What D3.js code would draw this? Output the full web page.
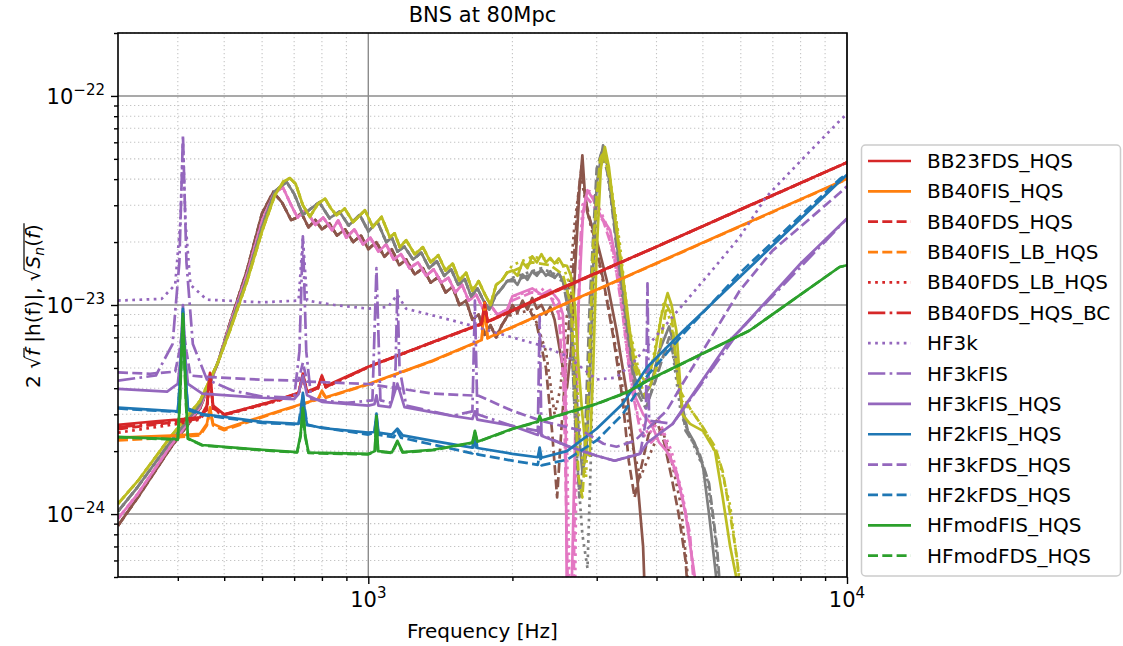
<!DOCTYPE html>
<html><head><meta charset="utf-8">
<script src="https://cdn.jsdelivr.net/npm/d3@7"></script>
<style>body{margin:0;background:#fff;} text{font-family:"DejaVu Sans",sans-serif;fill:#000;}</style>
</head><body><svg id="c" width="1123" height="646"></svg>
<script>
// ---------------- DATA ----------------
const title = "BNS at 80Mpc";
const xLabel = "Frequency [Hz]";
const xMajorTicks = [1000, 10000];
const xMajorLabels = [["10","3"],["10","4"]];
const xMinorTicks = [400,500,600,700,800,900,2000,3000,4000,5000,6000,7000,8000,9000];
const yMajorTicks = [1e-24, 1e-23, 1e-22];
const yMajorLabels = [["10","\u221224"],["10","\u221223"],["10","\u221222"]];
const yMinorTicks = [5e-25,6e-25,7e-25,8e-25,9e-25,2e-24,3e-24,4e-24,5e-24,6e-24,7e-24,8e-24,9e-24,2e-23,3e-23,4e-23,5e-23,6e-23,7e-23,8e-23,9e-23,2e-22];

// BNS signal curves 2*sqrt(f)|h(f)|  [f, value]
const brownSolid = [[300,8.8e-25],[330,1.2e-24],[385,2.05e-24],[445,3.2e-24],[485,5.3e-24],[514,8.2e-24],[557,1.45e-23],[600,2.75e-23],[633,3.47e-23],[660,3.1e-23],[690,2.55e-23],[705,2.6e-23],[725,2.75e-23],[750,2.35e-23],[775,2.55e-23],[800,2.3e-23],[830,2.45e-23],[860,2.15e-23],[895,2.3e-23],[930,2.0e-23],[965,2.15e-23],[1000,1.85e-23],[1040,2.0e-23],[1080,1.7e-23],[1120,1.85e-23],[1160,1.55e-23],[1200,1.65e-23],[1250,1.4e-23],[1300,1.5e-23],[1350,1.28e-23],[1400,1.36e-23],[1450,1.15e-23],[1500,1.22e-23],[1550,1.0e-23],[1600,1.05e-23],[1650,8.5e-24],[1700,9.0e-24],[1750,7.2e-24],[1800,8.0e-24],[1850,7.0e-24],[1900,8.0e-24],[1950,8.8e-24],[2000,1.0e-23],[2050,9.2e-24],[2100,1.05e-23],[2150,9.5e-24],[2200,1.08e-23],[2250,9.6e-24],[2300,1.0e-23],[2350,9.0e-24],[2400,9.8e-24],[2450,8.5e-24],[2500,6.5e-24],[2550,5.0e-24],[2600,4.0e-24],[2650,6e-24],[2700,1.4e-23],[2760,3.5e-23],[2800,5.2e-23],[2830,3.6e-23],[2870,2.75e-23],[3000,2.04e-23],[3150,1.31e-23],[3300,7.55e-24],[3480,3.6e-24],[3650,1.44e-24],[3750,7e-25],[3800,3e-25]];
const brownDashedTail = [[2000,9.5e-24],[2150,1.0e-23],[2250,8e-24],[2350,5e-24],[2420,2.5e-24],[2480,1.2e-24],[2530,2.5e-24],[2600,6e-24],[2680,1.5e-23],[2750,3.5e-23],[2790,4.6e-23],[2840,3.2e-23],[2950,2.2e-23],[3100,1.3e-23],[3250,7e-24],[3400,3.5e-24],[3500,1.8e-24],[3600,1.2e-24],[3700,1.6e-24],[3850,2.4e-24],[4000,2.8e-24],[4150,2.2e-24],[4300,1.5e-24],[4450,1.0e-24],[4600,6e-25],[4700,3e-25]];
const brownDottedTail = [[2000,9e-24],[2200,9.5e-24],[2350,6e-24],[2450,3e-24],[2520,4e-24],[2600,9e-24],[2700,2.5e-23],[2780,4.2e-23],[2850,3e-23],[3000,1.8e-23],[3200,9e-24],[3400,4e-24],[3550,2.2e-24],[3700,1.5e-24],[3900,2e-24],[4100,2.6e-24],[4300,1.8e-24],[4500,1.1e-24],[4650,5e-25],[4750,3e-25]];

const pinkSolid = [[300,9.5e-25],[330,1.25e-24],[385,2.1e-24],[445,3.25e-24],[485,5.3e-24],[514,8.0e-24],[557,1.38e-23],[601,2.55e-23],[635,3.4e-23],[663,3.66e-23],[690,3.0e-23],[712,2.62e-23],[740,2.85e-23],[775,2.42e-23],[805,2.62e-23],[840,2.28e-23],[865,2.54e-23],[900,2.1e-23],[935,2.3e-23],[975,1.95e-23],[1010,2.1e-23],[1050,1.8e-23],[1090,1.95e-23],[1130,1.65e-23],[1170,1.75e-23],[1220,1.5e-23],[1270,1.6e-23],[1320,1.38e-23],[1370,1.48e-23],[1420,1.28e-23],[1470,1.35e-23],[1520,1.15e-23],[1570,1.25e-23],[1620,1.05e-23],[1680,1.12e-23],[1740,9.5e-24],[1800,1.0e-23],[1860,9.0e-24],[1950,9.5e-24],[2000,1.1e-23],[2100,1.15e-23],[2200,1.2e-23],[2300,1.12e-23],[2400,1.18e-23],[2500,1.05e-23],[2550,9e-24],[2580,5e-24],[2600,3e-25],[2650,3e-25],[2700,2e-24],[2750,1e-23],[2810,2.8e-23],[2870,3.54e-23],[2950,3.2e-23],[3050,2.7e-23],[3200,2.28e-23],[3300,1.6e-23],[3400,1.1e-23],[3500,6e-24],[3620,3.6e-24],[3750,3e-24],[3900,2.7e-24],[4050,2.2e-24],[4200,2.0e-24],[4400,1.6e-24],[4600,1.0e-24],[4810,5e-25],[4900,3e-25]];
const pinkDashedTail = [[2000,1.05e-23],[2200,1.15e-23],[2400,1.1e-23],[2500,9e-24],[2560,4e-24],[2620,3e-25],[2680,3e-25],[2720,5e-24],[2780,2.2e-23],[2850,3.3e-23],[2950,3.0e-23],[3100,2.5e-23],[3250,1.8e-23],[3400,9e-24],[3550,4e-24],[3700,2.5e-24],[3900,2.2e-24],[4100,2.5e-24],[4300,1.8e-24],[4500,1.3e-24],[4700,8e-25],[4850,3e-25]];
const pinkDottedTail = [[2000,1.1e-23],[2300,1.2e-23],[2500,1.0e-23],[2580,6e-24],[2640,3e-25],[2700,3e-25],[2740,8e-24],[2800,3.0e-23],[2900,3.5e-23],[3000,3.1e-23],[3150,2.4e-23],[3350,1.2e-23],[3500,5e-24],[3650,3e-24],[3850,2.4e-24],[4050,2.8e-24],[4300,2e-24],[4550,1.2e-24],[4750,6e-25],[4900,3e-25]];

const graySolid = [[300,1.03e-24],[330,1.35e-24],[385,2.2e-24],[445,3.35e-24],[485,5.3e-24],[514,7.8e-24],[557,1.32e-23],[601,2.4e-23],[638,3.5e-23],[675,3.88e-23],[700,3.4e-23],[730,2.7e-23],[760,2.9e-23],[790,3.1e-23],[830,2.6e-23],[870,2.8e-23],[910,2.4e-23],[960,2.7e-23],[1000,2.25e-23],[1045,2.5e-23],[1090,2.0e-23],[1120,2.1e-23],[1150,1.8e-23],[1190,1.9e-23],[1240,1.65e-23],[1290,1.78e-23],[1340,1.5e-23],[1390,1.62e-23],[1440,1.38e-23],[1490,1.48e-23],[1540,1.25e-23],[1590,1.33e-23],[1640,1.1e-23],[1690,1.2e-23],[1740,1.05e-23],[1790,9.5e-24],[1840,1.1e-23],[1900,1.2e-23],[1950,1.3e-23],[2000,1.33e-23],[2050,1.25e-23],[2100,1.4e-23],[2150,1.32e-23],[2200,1.45e-23],[2250,1.38e-23],[2300,1.48e-23],[2350,1.38e-23],[2400,1.45e-23],[2450,1.35e-23],[2500,1.42e-23],[2550,1.3e-23],[2600,1.2e-23],[2650,9e-24],[2700,5e-24],[2750,2.5e-24],[2800,1.6e-24],[2850,1.9e-24],[2900,4e-24],[2950,1.5e-23],[3000,3.8e-23],[3093,5.8e-23],[3150,4.8e-23],[3220,3.2e-23],[3300,2.0e-23],[3400,1.2e-23],[3500,7e-24],[3600,4.5e-24],[3750,3.6e-24],[3900,4.2e-24],[4050,6e-24],[4250,7.9e-24],[4350,6.5e-24],[4500,3.5e-24],[4650,2.5e-24],[4800,2.2e-24],[5000,1.7e-24],[5150,1.0e-24],[5330,5e-25],[5450,3e-25]];
const grayDashedTail = [[2000,1.3e-23],[2300,1.45e-23],[2550,1.3e-23],[2650,8e-24],[2700,3e-24],[2760,1.2e-24],[2830,2e-24],[2900,1.0e-23],[3000,4.5e-23],[3080,5.5e-23],[3180,4e-23],[3300,1.9e-23],[3450,9e-24],[3600,4e-24],[3800,3.2e-24],[4000,4.5e-24],[4250,7e-24],[4400,5e-24],[4600,2.5e-24],[4900,2.0e-24],[5150,1.4e-24],[5350,7e-25],[5500,3e-25]];
const grayDottedTail = [[2000,1.35e-23],[2300,1.5e-23],[2550,1.35e-23],[2650,8e-24],[2720,2e-24],[2800,8e-25],[2870,5.5e-25],[2920,2e-24],[2980,2e-23],[3060,5.2e-23],[3150,4.5e-23],[3280,2.2e-23],[3450,8e-24],[3650,3.8e-24],[3850,3.5e-24],[4100,5.5e-24],[4300,6.5e-24],[4500,3e-24],[4800,2.1e-24],[5100,1.5e-24],[5300,8e-25],[5450,3e-25]];

const oliveSolid = [[300,1.12e-24],[330,1.44e-24],[385,2.32e-24],[445,3.48e-24],[485,5.3e-24],[514,7.55e-24],[557,1.28e-23],[601,2.28e-23],[638,3.35e-23],[665,3.9e-23],[686,4.04e-23],[705,3.8e-23],[730,3.0e-23],[755,2.64e-23],[785,3.05e-23],[812,3.23e-23],[835,2.9e-23],[858,2.69e-23],[893,2.89e-23],[930,2.49e-23],[984,2.84e-23],[1022,2.36e-23],[1066,2.64e-23],[1109,2.11e-23],[1135,2.2e-23],[1164,1.89e-23],[1200,2.04e-23],[1250,1.75e-23],[1300,1.89e-23],[1350,1.6e-23],[1400,1.73e-23],[1450,1.46e-23],[1500,1.58e-23],[1550,1.31e-23],[1600,1.43e-23],[1650,1.17e-23],[1700,1.3e-23],[1750,1.13e-23],[1800,1.0e-23],[1850,1.25e-23],[1900,1.31e-23],[1950,1.43e-23],[2000,1.46e-23],[2050,1.38e-23],[2100,1.6e-23],[2150,1.5e-23],[2200,1.71e-23],[2250,1.6e-23],[2300,1.75e-23],[2350,1.6e-23],[2400,1.68e-23],[2450,1.58e-23],[2500,1.67e-23],[2550,1.55e-23],[2600,1.54e-23],[2650,1.38e-23],[2700,1.0e-23],[2750,5e-24],[2800,3.0e-24],[2850,2.0e-24],[2900,1.9e-24],[2950,5e-24],[3000,1.8e-23],[3060,4.5e-23],[3120,5.7e-23],[3180,4.6e-23],[3250,3.0e-23],[3300,2.28e-23],[3400,1.4e-23],[3517,7.55e-24],[3600,5.3e-24],[3700,4.6e-24],[3800,4.3e-24],[3950,5.5e-24],[4100,9e-24],[4220,1.14e-23],[4300,1.0e-23],[4400,7.55e-24],[4530,3.0e-24],[4700,2.7e-24],[5000,2.5e-24],[5300,2.0e-24],[5500,1.2e-24],[5700,7e-25],[5870,5e-25],[6000,3e-25]];
const oliveDashedTail = [[2000,1.45e-23],[2200,1.6e-23],[2400,1.55e-23],[2550,1.4e-23],[2650,1.0e-23],[2700,4e-24],[2750,1.5e-24],[2800,1.2e-24],[2870,3e-24],[2950,2e-23],[3050,5.0e-23],[3100,5.4e-23],[3180,4.2e-23],[3300,2.4e-23],[3450,1.0e-23],[3600,5e-24],[3800,3.6e-24],[4000,5e-24],[4200,1.0e-23],[4300,9e-24],[4450,4e-24],[4700,3.2e-24],[5000,2.6e-24],[5300,2.1e-24],[5500,1.6e-24],[5700,1.0e-24],[5900,6e-25],[6050,3e-25]];
const oliveDottedTail = [[2000,1.55e-23],[2200,1.7e-23],[2400,1.65e-23],[2550,1.55e-23],[2650,1.2e-23],[2720,5e-24],[2780,2e-24],[2850,1.5e-24],[2920,8e-24],[3000,3.5e-23],[3100,5.3e-23],[3200,4.0e-23],[3350,2.0e-23],[3500,8e-24],[3700,4.5e-24],[3900,5e-24],[4150,1.05e-23],[4300,8e-24],[4500,3.5e-24],[4800,3.0e-24],[5100,2.4e-24],[5400,1.8e-24],[5700,1.1e-24],[5950,5e-25],[6100,3e-25]];

// Detector noise curves sqrt(Sn)  [f, value]
const BB23FDS_HQS = [[300,2.67e-24],[360,2.78e-24],[400,2.83e-24],[445,2.9e-24],[460,3.3e-24],[467,4.74e-24],[474,3.3e-24],[500,3.0e-24],[600,3.35e-24],[654,3.55e-24],[715,3.8e-24],[730,4.7e-24],[745,3.85e-24],[785,4.05e-24],[800,4.6e-24],[815,4.1e-24],[1000,5.07e-24],[1364,6.65e-24],[1725,8.15e-24],[1750,1.03e-23],[1775,8.35e-24],[2500,1.19e-23],[4000,1.9e-23],[6000,2.87e-23],[10000,4.81e-23]];
const BB40FIS_HQS = [[300,2.32e-24],[400,2.38e-24],[445,2.42e-24],[460,2.7e-24],[467,3.24e-24],[474,2.7e-24],[500,2.56e-24],[654,3.12e-24],[785,3.55e-24],[800,3.89e-24],[815,3.62e-24],[1000,4.19e-24],[1364,5.42e-24],[1725,6.8e-24],[1750,1.02e-23],[1775,6.95e-24],[10000,4.02e-23]];
const BB40FDS_HQS = [[300,2.55e-24],[400,2.76e-24],[445,2.86e-24],[460,3.2e-24],[467,4.6e-24],[474,3.2e-24],[500,2.98e-24],[654,3.52e-24],[715,3.78e-24],[730,4.6e-24],[745,3.83e-24],[785,4.0e-24],[800,4.55e-24],[815,4.05e-24],[1000,5.05e-24],[1364,6.64e-24],[1725,8.1e-24],[1750,1.0e-23],[1775,8.3e-24],[2500,1.18e-23],[4000,1.9e-23],[6000,2.86e-23],[10000,4.8e-23]];
const BB40FIS_LB_HQS = [[300,2.25e-24],[400,2.33e-24],[445,2.38e-24],[460,2.65e-24],[467,3.1e-24],[474,2.65e-24],[500,2.52e-24],[654,3.1e-24],[785,3.53e-24],[800,3.8e-24],[815,3.6e-24],[1000,4.17e-24],[1364,5.4e-24],[1725,6.78e-24],[1750,9.8e-24],[1775,6.93e-24],[10000,4.0e-23]];
const BB40FDS_LB_HQS = [[300,2.45e-24],[400,2.7e-24],[445,2.83e-24],[460,3.15e-24],[467,4.5e-24],[474,3.15e-24],[500,2.97e-24],[654,3.5e-24],[715,3.77e-24],[730,4.5e-24],[745,3.82e-24],[785,3.99e-24],[800,4.5e-24],[815,4.04e-24],[1000,5.04e-24],[1364,6.63e-24],[1725,8.1e-24],[1750,9.8e-24],[1775,8.3e-24],[2500,1.18e-23],[4000,1.9e-23],[6000,2.86e-23],[10000,4.8e-23]];
const BB40FDS_HQS_BC = [[300,2.6e-24],[400,2.8e-24],[445,2.88e-24],[460,3.25e-24],[467,4.65e-24],[474,3.25e-24],[500,2.99e-24],[654,3.54e-24],[715,3.79e-24],[730,4.6e-24],[745,3.84e-24],[785,4.0e-24],[800,4.55e-24],[815,4.05e-24],[1000,5.06e-24],[1364,6.65e-24],[1725,8.12e-24],[1750,1.0e-23],[1775,8.32e-24],[2500,1.19e-23],[4000,1.9e-23],[6000,2.87e-23],[10000,4.81e-23]];
const HF3k = [[300,1.05e-23],[370,1.07e-23],[395,1.25e-23],[405,2.5e-23],[410,6.0e-23],[415,2.5e-23],[425,1.25e-23],[460,1.06e-23],[600,1.03e-23],[715,1.05e-23],[730,2.1e-23],[745,1.05e-23],[850,1.0e-23],[1000,9.6e-24],[1100,9.8e-24],[1150,1.12e-23],[1200,9.6e-24],[1500,8.43e-24],[1700,7.8e-24],[2000,7.0e-24],[2300,6.4e-24],[2600,5.7e-24],[3000,4.4e-24],[3300,4.5e-24],[3600,5.4e-24],[4200,8.13e-24],[5085,1.36e-23],[5967,2.11e-23],[6780,3.29e-23],[8220,5.21e-23],[9650,7.6e-23],[10000,8.2e-23]];
const HF3kFIS = [[300,4.35e-24],[360,4.6e-24],[390,6.5e-24],[403,1.6e-23],[410,6.5e-23],[417,1.6e-23],[430,6.5e-24],[460,4.4e-24],[520,3.9e-24],[600,3.65e-24],[700,3.6e-24],[718,6e-24],[730,2.13e-23],[742,6e-24],[760,3.55e-24],[900,3.4e-24],[1020,3.5e-24],[1040,1.5e-23],[1060,3.5e-24],[1120,3.4e-24],[1140,5e-24],[1150,1.2e-23],[1162,5e-24],[1200,3.3e-24],[1500,2.95e-24],[1650,3.1e-24],[1670,1.05e-23],[1690,3.0e-24],[2000,2.64e-24],[2260,2.5e-24],[2280,8.8e-24],[2300,2.4e-24],[2600,2.12e-24],[3000,1.9e-24],[3270,1.8e-24],[3700,1.95e-24],[3800,2.8e-24],[3830,1.27e-23],[3860,2.8e-24],[4323,2.7e-24],[5967,7.55e-24],[10000,2.59e-23]];
const HF3kFIS_HQS = [[300,3.97e-24],[380,3.85e-24],[400,4.2e-24],[405,5.5e-24],[410,1.0e-23],[415,5.5e-24],[420,4.2e-24],[450,3.77e-24],[600,3.6e-24],[700,3.55e-24],[715,3.75e-24],[730,4.59e-24],[745,3.7e-24],[800,3.44e-24],[1000,3.3e-24],[1030,3.35e-24],[1040,3.7e-24],[1050,3.3e-24],[1110,3.25e-24],[1150,4.21e-24],[1190,3.25e-24],[1500,2.95e-24],[1650,2.85e-24],[1670,3.1e-24],[1690,2.83e-24],[2000,2.64e-24],[2260,2.39e-24],[2280,2.6e-24],[2300,2.37e-24],[2600,2.12e-24],[3000,1.9e-24],[3270,1.8e-24],[3690,1.94e-24],[3830,2.2e-24],[4323,2.7e-24],[5685,6.76e-24],[5967,7.55e-24],[8000,1.58e-23],[10000,2.59e-23]];
const HF2kFIS_HQS = [[300,3.23e-24],[400,3.1e-24],[405,4.6e-24],[410,9.59e-24],[415,4.6e-24],[420,3.2e-24],[450,3.01e-24],[600,2.76e-24],[715,2.7e-24],[722,3.0e-24],[730,3.8e-24],[738,3.0e-24],[745,2.68e-24],[800,2.58e-24],[1000,2.45e-24],[1030,2.47e-24],[1040,3.02e-24],[1050,2.45e-24],[1120,2.4e-24],[1150,2.56e-24],[1180,2.38e-24],[1364,2.24e-24],[1650,2.08e-24],[1670,2.45e-24],[1690,2.07e-24],[2000,1.94e-24],[2260,1.87e-24],[2280,2.08e-24],[2300,1.86e-24],[2600,2.0e-24],[3000,2.56e-24],[3400,3.37e-24],[3830,5.07e-24],[4557,7.55e-24],[5967,1.36e-23],[9650,3.9e-23],[10000,4.2e-23]];
const HF3kFDS_HQS = [[300,4.76e-24],[350,4.69e-24],[395,4.8e-24],[403,6e-24],[410,8e-24],[417,6e-24],[425,4.6e-24],[450,4.54e-24],[600,4.39e-24],[715,4.35e-24],[730,5.3e-24],[745,4.3e-24],[1000,4.19e-24],[1364,3.77e-24],[1700,3.68e-24],[2000,3.12e-24],[2300,2.79e-24],[2800,2.5e-24],[3100,2.17e-24],[3300,2.1e-24],[3600,2.24e-24],[4200,3.12e-24],[4537,4.21e-24],[5967,1.17e-23],[6990,1.82e-23],[9650,3.43e-23],[10000,3.7e-23]];
const HF2kFDS_HQS = [[300,3.2e-24],[400,3.08e-24],[405,4.5e-24],[410,9.3e-24],[415,4.5e-24],[420,3.15e-24],[450,2.98e-24],[600,2.73e-24],[715,2.68e-24],[730,3.7e-24],[745,2.66e-24],[1000,2.4e-24],[1030,2.45e-24],[1040,2.95e-24],[1050,2.4e-24],[1130,2.33e-24],[1150,2.5e-24],[1170,2.32e-24],[1364,2.15e-24],[1650,1.95e-24],[1670,2.35e-24],[1690,1.93e-24],[2000,1.8e-24],[2260,1.72e-24],[2280,1.95e-24],[2300,1.71e-24],[2600,1.82e-24],[3000,2.25e-24],[3400,3.0e-24],[3830,4.6e-24],[4557,7.3e-24],[5967,1.42e-23],[9650,4.0e-23],[10000,4.25e-23]];
const HFmodFIS_HQS = [[300,2.34e-24],[400,2.28e-24],[404,3.5e-24],[410,9.08e-24],[416,3.5e-24],[420,2.3e-24],[450,2.14e-24],[600,2.03e-24],[710,1.98e-24],[722,2.4e-24],[730,3.22e-24],[738,2.4e-24],[750,1.97e-24],[800,1.96e-24],[1000,1.94e-24],[1032,2.0e-24],[1040,2.95e-24],[1048,2.0e-24],[1120,1.97e-24],[1150,2.24e-24],[1180,1.98e-24],[1364,2.03e-24],[1650,2.2e-24],[1670,2.5e-24],[1690,2.22e-24],[2000,2.56e-24],[2260,2.77e-24],[2280,2.95e-24],[2300,2.8e-24],[3000,3.37e-24],[3465,3.82e-24],[3830,4.35e-24],[6258,7.55e-24],[9650,1.52e-23],[10000,1.55e-23]];
const HFmodFDS_HQS = [[300,2.33e-24],[400,2.27e-24],[404,3.4e-24],[410,8.9e-24],[416,3.4e-24],[420,2.29e-24],[450,2.13e-24],[600,2.02e-24],[710,1.97e-24],[722,2.35e-24],[730,3.15e-24],[738,2.35e-24],[750,1.96e-24],[800,1.95e-24],[1000,1.93e-24],[1032,1.99e-24],[1040,2.9e-24],[1048,1.99e-24],[1120,1.96e-24],[1150,2.2e-24],[1180,1.97e-24],[1364,2.02e-24],[1650,2.19e-24],[1670,2.45e-24],[1690,2.21e-24],[2000,2.55e-24],[2260,2.76e-24],[2280,2.9e-24],[2300,2.79e-24],[3000,3.36e-24],[3465,3.81e-24],[3830,4.34e-24],[6258,7.54e-24],[9650,1.52e-23],[10000,1.55e-23]];

const legendNames = ["BB23FDS_HQS","BB40FIS_HQS","BB40FDS_HQS","BB40FIS_LB_HQS","BB40FDS_LB_HQS","BB40FDS_HQS_BC","HF3k","HF3kFIS","HF3kFIS_HQS","HF2kFIS_HQS","HF3kFDS_HQS","HF2kFDS_HQS","HFmodFIS_HQS","HFmodFDS_HQS"];

// ---------------- STYLE ----------------
const C = {blue:"#1f77b4",orange:"#ff7f0e",green:"#2ca02c",red:"#d62728",purple:"#9467bd",brown:"#8c564b",pink:"#e377c2",gray:"#7f7f7f",olive:"#bcbd22"};
const LW = 2.7;
const DASH = {solid:null, dashed:"10,4.3", dotted:"2.7,4.45", dashdot:"17.3,4.3,2.7,4.3"};

const noiseSeries = [
  {name:legendNames[0], data:BB23FDS_HQS, color:C.red, dash:"solid"},
  {name:legendNames[1], data:BB40FIS_HQS, color:C.orange, dash:"solid"},
  {name:legendNames[2], data:BB40FDS_HQS, color:C.red, dash:"dashed"},
  {name:legendNames[3], data:BB40FIS_LB_HQS, color:C.orange, dash:"dashed"},
  {name:legendNames[4], data:BB40FDS_LB_HQS, color:C.red, dash:"dotted"},
  {name:legendNames[5], data:BB40FDS_HQS_BC, color:C.red, dash:"dashdot"},
  {name:legendNames[6], data:HF3k, color:C.purple, dash:"dotted"},
  {name:legendNames[7], data:HF3kFIS, color:C.purple, dash:"dashdot"},
  {name:legendNames[8], data:HF3kFIS_HQS, color:C.purple, dash:"solid"},
  {name:legendNames[9], data:HF2kFIS_HQS, color:C.blue, dash:"solid"},
  {name:legendNames[10], data:HF3kFDS_HQS, color:C.purple, dash:"dashed"},
  {name:legendNames[11], data:HF2kFDS_HQS, color:C.blue, dash:"dashed"},
  {name:legendNames[12], data:HFmodFIS_HQS, color:C.green, dash:"solid"},
  {name:legendNames[13], data:HFmodFDS_HQS, color:C.green, dash:"dashed"}
];
function withTail(solid, tail){ return solid.filter(d=>d[0]<tail[0][0]).concat(tail); }
const signalSeries = [
  {data:brownSolid, color:C.brown, dash:"solid"},
  {data:withTail(brownSolid,brownDashedTail), color:C.brown, dash:"dashed"},
  {data:withTail(brownSolid,brownDottedTail), color:C.brown, dash:"dotted"},
  {data:pinkSolid, color:C.pink, dash:"solid"},
  {data:withTail(pinkSolid,pinkDashedTail), color:C.pink, dash:"dashed"},
  {data:withTail(pinkSolid,pinkDottedTail), color:C.pink, dash:"dotted"},
  {data:graySolid, color:C.gray, dash:"solid"},
  {data:withTail(graySolid,grayDashedTail), color:C.gray, dash:"dashed"},
  {data:withTail(graySolid,grayDottedTail), color:C.gray, dash:"dotted"},
  {data:oliveSolid, color:C.olive, dash:"solid"},
  {data:withTail(oliveSolid,oliveDashedTail), color:C.olive, dash:"dashed"},
  {data:withTail(oliveSolid,oliveDottedTail), color:C.olive, dash:"dotted"}
];

// ---------------- CHART ----------------
const svg = d3.select("#c");
const m = {l:118, r:847, t:33, b:577};
const x = d3.scaleLog().domain([300,10000]).range([m.l,m.r]);
const y = d3.scaleLog().domain([5e-25,2e-22]).range([m.b,m.t]);

svg.append("defs").append("clipPath").attr("id","clip").append("rect")
  .attr("x",m.l).attr("y",m.t).attr("width",m.r-m.l).attr("height",m.b-m.t);

// grid
const grid = svg.append("g");
grid.selectAll(".gxm").data(xMinorTicks).join("line")
  .attr("x1",d=>x(d)).attr("x2",d=>x(d)).attr("y1",m.t).attr("y2",m.b)
  .attr("stroke","#c4c4c4").attr("stroke-width",1.1).attr("stroke-dasharray","1.3,2.7");
grid.selectAll(".gym").data(yMinorTicks).join("line")
  .attr("x1",m.l).attr("x2",m.r).attr("y1",d=>y(d)).attr("y2",d=>y(d))
  .attr("stroke","#c4c4c4").attr("stroke-width",1.1).attr("stroke-dasharray","1.3,2.7");
grid.selectAll(".gxM").data(xMajorTicks).join("line")
  .attr("x1",d=>x(d)).attr("x2",d=>x(d)).attr("y1",m.t).attr("y2",m.b)
  .attr("stroke","#8c8c8c").attr("stroke-width",1.4);
grid.selectAll(".gyM").data(yMajorTicks).join("line")
  .attr("x1",m.l).attr("x2",m.r).attr("y1",d=>y(d)).attr("y2",d=>y(d))
  .attr("stroke","#8c8c8c").attr("stroke-width",1.4);

// curves
const line = d3.line().x(d=>x(d[0])).y(d=>y(d[1]));
const plot = svg.append("g").attr("clip-path","url(#clip)");
function draw(s){
  plot.append("path").attr("d",line(s.data)).attr("fill","none")
    .attr("stroke",s.color).attr("stroke-width",LW)
    .attr("stroke-linejoin","round").attr("stroke-linecap","butt")
    .attr("stroke-dasharray",DASH[s.dash]);
}
signalSeries.forEach(draw);
noiseSeries.forEach(draw);

// axes
const axB = svg.append("g").attr("transform",`translate(0,${m.b})`);
axB.call(d3.axisBottom(x).tickValues(xMajorTicks).tickFormat("").tickSize(7).tickSizeOuter(0));
axB.call(g=>g.select(".domain").remove());
const axBm = svg.append("g").attr("transform",`translate(0,${m.b})`);
axBm.call(d3.axisBottom(x).tickValues(xMinorTicks).tickFormat("").tickSize(4).tickSizeOuter(0));
axBm.call(g=>g.select(".domain").remove());
const axL = svg.append("g").attr("transform",`translate(${m.l},0)`);
axL.call(d3.axisLeft(y).tickValues(yMajorTicks).tickFormat("").tickSize(7).tickSizeOuter(0));
axL.call(g=>g.select(".domain").remove());
const axLm = svg.append("g").attr("transform",`translate(${m.l},0)`);
axLm.call(d3.axisLeft(y).tickValues(yMinorTicks).tickFormat("").tickSize(4).tickSizeOuter(0));
axLm.call(g=>g.select(".domain").remove());
svg.selectAll(".tick line").attr("stroke","#000").attr("stroke-width",1.4);

svg.append("rect").attr("x",m.l).attr("y",m.t).attr("width",m.r-m.l).attr("height",m.b-m.t)
  .attr("fill","none").attr("stroke","#000").attr("stroke-width",1.6);

// tick labels
xMajorTicks.forEach((v,i)=>{
  const t = svg.append("text").attr("x",x(v)).attr("y",607).attr("text-anchor","middle").attr("font-size",21);
  t.append("tspan").text(xMajorLabels[i][0]);
  t.append("tspan").attr("dy",-9).attr("font-size",15).text(xMajorLabels[i][1]);
});
yMajorTicks.forEach((v,i)=>{
  const t = svg.append("text").attr("x",105).attr("y",y(v)+8).attr("text-anchor","end").attr("font-size",21);
  t.append("tspan").text(yMajorLabels[i][0]);
  t.append("tspan").attr("dy",-9).attr("font-size",15).text(yMajorLabels[i][1]);
});

// title & labels
svg.append("text").attr("x",(m.l+m.r)/2).attr("y",22).attr("text-anchor","middle").attr("font-size",21).text(title);
svg.append("text").attr("x",(m.l+m.r)/2).attr("y",638).attr("text-anchor","middle").attr("font-size",20).text(xLabel);

const yg = svg.append("g").attr("transform","translate(40,306) rotate(-90)");
const yt = yg.append("text").attr("x",0).attr("y",0).attr("text-anchor","middle").attr("font-size",20);
yt.append("tspan").text("2 \u221A");
yt.append("tspan").attr("font-style","italic").text("f");
yt.append("tspan").text(" |h(f)|, \u221A");
yt.append("tspan").attr("font-style","italic").text("S");
yt.append("tspan").attr("font-style","italic").attr("font-size",14).attr("dy",4).text("n");
yt.append("tspan").attr("dy",-4).text("(");
yt.append("tspan").attr("font-style","italic").text("f");
yt.append("tspan").text(")");
try {
  const el = yt.node();
  const bars = [[2,3],[13,18]];
  bars.forEach(([a,b])=>{
    const p0 = el.getEndPositionOfChar(a), p1 = el.getEndPositionOfChar(b);
    yg.append("line").attr("x1",p0.x-1).attr("x2",p1.x+1).attr("y1",-16).attr("y2",-16)
      .attr("stroke","#000").attr("stroke-width",1.2);
  });
} catch(e) {}

// legend
const lg = svg.append("g");
lg.append("rect").attr("x",861.5).attr("y",145).attr("width",259).attr("height",431).attr("rx",4)
  .attr("fill","#fff").attr("fill-opacity",0.85).attr("stroke","#cccccc").attr("stroke-width",1.5);
noiseSeries.forEach((s,i)=>{
  const cy = 161 + i*30.36;
  lg.append("line").attr("x1",868).attr("x2",911).attr("y1",cy).attr("y2",cy)
    .attr("stroke",s.color).attr("stroke-width",LW).attr("stroke-dasharray",DASH[s.dash]);
  lg.append("text").attr("x",927).attr("y",cy+7).attr("font-size",20).text(s.name);
});
</script></body></html>
